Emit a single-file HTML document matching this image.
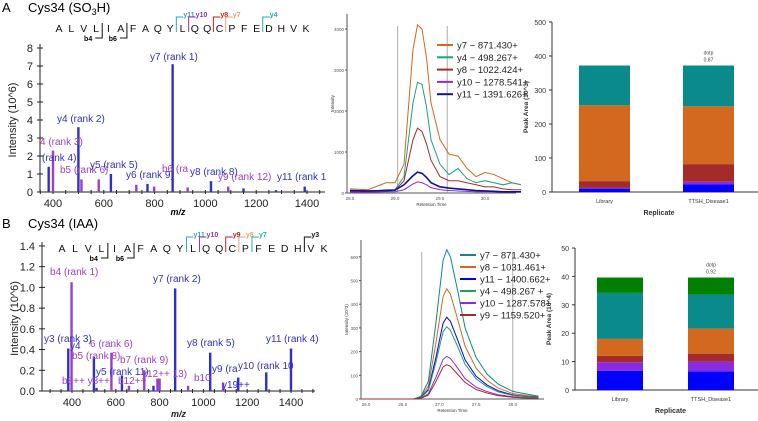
<!DOCTYPE html>
<html><head><meta charset="utf-8"><style>
html,body{margin:0;background:#fff;overflow:hidden;width:758px;height:421px;}
svg{display:block;font-family:"Liberation Sans",sans-serif;}
</style></head><body>
<svg id="fig" width="758" height="421" viewBox="0 0 758 421" xmlns="http://www.w3.org/2000/svg">
<g id="static">
<text x="2" y="12" font-size="13">A</text>
<text x="28" y="12" font-size="13">Cys34 (SO<tspan font-size="9" dy="3">3</tspan><tspan dy="-3">H)</tspan></text>
<text x="2" y="228" font-size="13">B</text>
<text x="28" y="228" font-size="13">Cys34 (IAA)</text>
</g>
</svg>
<script>
const NS="http://www.w3.org/2000/svg";
const svg=document.getElementById('fig');
function el(t,a,p){const e=document.createElementNS(NS,t);for(const k in a)e.setAttribute(k,a[k]);(p||svg).appendChild(e);return e;}

// ---------- Spectrum data ----------
const specA_mz=[383,400,500,512,580,628,728,772,798,871,930,1022,1090,1150,1278,1391];
const specA_int=[1.4,2.3,3.6,0.7,0.7,1.0,0.4,0.45,0.3,7.1,0.25,0.6,0.3,0.2,0.1,0.3];
const specA_type=["y","b","y","b","b","y","b","y","b","y","b","y","b","y","y","y"];
const specA_yticks=[0,1,2,3,4,5,6,7,8];
const specB_mz=[383,398,500,512,580,628,660,730,772,790,800,871,930,1031,1090,1159,1287,1400];
const specB_int=[0.41,1.05,0.33,0.03,0.37,0.15,0.05,0.2,0.05,0.12,0.12,0.99,0.05,0.37,0.08,0.13,0.18,0.41];
const specB_type=["y","b","y","y","b","y","b","b","y","b","b","y","b","y","b","y","y","y"];
const specB_yticks=[0,0.2,0.4,0.6,0.8,1.0,1.2,1.4];
const spec_xticks=[400,600,800,1000,1200,1400];

// ---------- Chromatogram data ----------
const chromA_t=[28.5,28.7,28.9,29.0,29.1,29.2,29.25,29.3,29.35,29.4,29.5,29.6,29.7,29.8,29.9,30.0,30.1,30.2,30.3,30.4];
const chromA_y7=[100,80,250,250,700,3500,4100,4000,3300,2200,1300,950,900,600,400,500,450,350,250,200];
const chromA_y4=[50,40,80,80,400,2200,2700,2650,2100,1300,700,450,600,350,250,300,250,200,250,200];
const chromA_y8=[30,30,50,60,300,1300,1580,1500,1200,800,400,300,300,250,200,150,150,100,80,80];
const chromA_y10=[20,20,30,30,80,220,270,250,200,130,80,60,50,40,30,30,30,20,20,20];
const chromA_y11=[60,50,60,70,200,420,510,480,380,250,150,120,100,80,60,50,40,30,30,30];
const chromA_labels=["y7  − 871.430+","y4  − 498.267+","y8 − 1022.424+","y10 − 1278.541+","y11 − 1391.626+"];
const chromA_yticks=[0,1000,2000,3000,4000];
const chromA_xticks=[28.5,29.0,29.5,30.0];

const chromB_t=[25.95,26.5,26.65,26.75,26.85,26.95,27.05,27.1,27.15,27.25,27.35,27.5,27.65,27.8,28.0,28.2,28.35];
const chromB_y7=[0,0,0,12,75,315,585,630,600,455,300,175,105,63,32,20,12];
const chromB_y8=[0,0,0,9,55,232,432,465,442,335,223,130,79,46,23,14,9];
const chromB_y11=[0,0,0,7,41,172,320,345,328,248,165,96,59,35,17,10,7];
const chromB_y4=[0,0,0,6,36,152,284,305,290,220,146,85,52,30,15,9,6];
const chromB_y10=[0,0,0,4,22,90,167,180,171,130,86,50,31,18,9,5,4];
const chromB_y9=[0,0,0,3,17,72,135,145,138,104,70,40,25,14,7,4,3];
const chromB_labels=["y7  − 871.430+","y8 − 1031.461+","y11 − 1400.662+","y4  − 498.267 +","y10 − 1287.578+","y9 − 1159.520+"];
const chromB_yticks=[0,100,200,300,400,500,600];
const chromB_xticks=[26.0,26.5,27.0,27.5,28.0];

// ---------- Bar data ----------
const reps=["Library","TTSH_Disease1"];
const barA_blue=[10,22],barA_purple=[2,8],barA_red=[20,52],barA_orange=[223,170],barA_teal=[117,120];
const barA_yticks=[0,100,200,300,400,500];
const barB_blue=[6.8,6.6],barB_purple=[3.0,3.4],barB_red=[2.2,2.8],barB_orange=[6.0,8.8],barB_teal=[16.2,12.0],barB_green=[5.4,6.0];
const barB_yticks=[0,10,20,30,40,50];

const C={teal:"#0a8a8a",orange:"#d2691e",red:"#a52a2a",purple:"#8a2be2",blue:"#0000ff",green:"#008000",yion:"#3030c8",bion:"#9a40c8"};

// ---------- Spectrum drawing ----------
function spectrum(o){
  const g=el('g',{});
  
  
  const xs=m=>o.x0+(m-400)*o.pxPer100/100;
  const ys=v=>o.yb-v*o.pxPerUnit;
  el('line',{x1:o.ax,y1:o.yb,x2:o.xr,y2:o.yb,stroke:"#222","stroke-width":1},g);
  el('line',{x1:o.ax,y1:o.yb,x2:o.ax,y2:ys(o.yt[o.yt.length-1])-4,stroke:"#222","stroke-width":1},g);
  o.yt.forEach(v=>{
    el('line',{x1:o.ax-3,y1:ys(v),x2:o.ax+3,y2:ys(v),stroke:"#222"},g);
    const t=el('text',{x:o.ax-7,y:ys(v)+4,"font-size":11,"text-anchor":"end",fill:"#222"},g);
    
    
    t.textContent=o.fmt(v);
  });
  for(let m=300;m<=1500;m+=50){const x=xs(m);if(x<o.ax||x>o.xr)continue;el('line',{x1:x,y1:o.yb-2,x2:x,y2:o.yb+2,stroke:"#222"},g);}
  spec_xticks.forEach(m=>{
    const t=el('text',{x:xs(m),y:o.yb+15,"font-size":11,"text-anchor":"middle",fill:"#222"},g);
    
    
    t.textContent=m;
  });
  o.mz.forEach((m,i)=>{
    const r=el('rect',{x:xs(m)-1.2,y:ys(o.int[i]),width:2.4,height:o.int[i]*o.pxPerUnit,fill:o.type[i]=="y"?C.yion:C.bion},g);
    
    
  });
  const yl=el('text',{x:0,y:0,"font-size":11,"text-anchor":"middle",transform:`translate(${o.ax-24},${(o.yb+ys(o.yt[o.yt.length-1]))/2}) rotate(-90)`,fill:"#222"},g);
  
  
  yl.textContent="Intensity (10^6)";
  if(o.xlY){
    const xl=el('text',{x:(o.ax+o.xr)/2,y:o.xlY,"font-size":9,"font-weight":"bold","font-style":"italic","text-anchor":"middle",fill:"#222"},g);
    
    
    xl.textContent="m/z";
  }
  o.ann.forEach(a=>{
    const t=el('text',{x:a[1],y:a[2],"font-size":10,fill:a[3]},g);
    
    
    t.textContent=a[0];
  });
  const seq="ALVLIAFAQYLQQCPFEDHVK";
  for(let i=0;i<seq.length;i++){
    const t=el('text',{x:o.sx+i*o.sdx,y:o.sy,"font-size":10.5,"text-anchor":"middle",fill:"#111"},g);
    
    
    t.textContent=seq[i];
  }
  o.frag.forEach(f=>{
    const x=o.sx+(f[1]+0.5)*o.sdx;
    if(f[3]=="b"){
      el('path',{d:`M${x} ${o.sy-9} V${o.sy+6} H${x-7}`,stroke:"#111",fill:"none"},g);
      const t=el('text',{x:x-10,y:o.sy+9,"font-size":7,"font-weight":"bold","text-anchor":"end"},g);
      t.textContent=f[0];
    }else{
      el('path',{d:`M${x} ${o.sy} V${o.sy-15} H${x+7}`,stroke:f[2],fill:"none"},g);
      const t=el('text',{x:x+7,y:o.sy-15,"font-size":7,"font-weight":"bold",fill:f[2]},g);
      t.textContent=f[0];
    }
  });
}
spectrum({name:"spectrum-a",mz:specA_mz,int:specA_int,type:specA_type,yt:specA_yticks,fmt:v=>v,
  ax:40,xr:325,yb:192,pxPerUnit:18,x0:53,pxPer100:25.4,xlY:0,sx:59,sdx:12.35,sy:32,
  frag:[["b4",3,"#111","b"],["b6",5,"#111","b"],["y11",9,"#3aa0c8","y"],["y10",10,"#8a3a9a","y"],["y8",12,"#c02020","y"],["y7",13,"#e8a070","y"],["y4",16,"#20b0b0","y"]],
  ann:[["y7 (rank 1)",150,60,C.yion],["y4 (rank 2)",57,122,C.yion],["4 (rank 3)",40,145,C.bion],["(rank 4)",42,161,C.yion],["b5 (rank 6) ",60,173,C.bion],["y5 (rank 5)",90,168,C.yion],["y6 (rank 9)",126,178,C.yion],["b6 (ra",162,172,C.bion],["y8 (rank 8)",190,175,C.yion],["y9 (rank 12)",218,180,C.bion],["y11 (rank 1",277,180,C.yion]]});
spectrum({name:"spectrum-b",mz:specB_mz,int:specB_int,type:specB_type,yt:specB_yticks,fmt:v=>v.toFixed(1),
  ax:42,xr:315,yb:391,pxPerUnit:103.6,x0:72,pxPer100:21.9,xlY:417,sx:62,sdx:13.1,sy:252,
  frag:[["b4",3,"#111","b"],["b6",5,"#111","b"],["y11",9,"#3aa0c8","y"],["y10",10,"#8a3a9a","y"],["y9",12,"#c02020","y"],["y8",13,"#e8a070","y"],["y7",14,"#20b0b0","y"],["y3",18,"#111","y"]],
  ann:[["b4 (rank 1)",50,275,C.bion],["y7 (rank 2)",153,282,C.yion],["y3 (rank 3)",44,342,C.yion],["y4",70,349,C.yion],["6 (rank 6)",90,347,C.bion],["b5 (rank 8)",72,359,C.bion],["b7 (rank 9)",120,363,C.bion],["y8 (rank 5)",187,346,C.yion],["y11 (rank 4)",266,342,C.yion],["y5 (rank 11)",96,375,C.yion],["y12++ 13)",142,377,C.bion],["y9 (ra",212,372,C.yion],["y10 (rank 10",238,369,C.yion],["b8++  y8++",62,384,C.bion],["b12++",118,384,C.bion],["b10",194,381,C.bion],["y19++",222,388,C.yion]]});
(function(){const t=el('text',{x:178,y:215,"font-size":9,"font-weight":"bold","font-style":"italic","text-anchor":"middle"});t.textContent="m/z";})();

// ---------- Chromatogram drawing ----------
function chrom(o){
  const g=el('g',{});
  
  
  const xs=t=>o.xa+(t-o.t0)*o.pxPerT;
  const ys=v=>o.yb-v*o.pxPerV;
  el('line',{x1:o.ax,y1:o.yb,x2:o.xr,y2:o.yb,stroke:"#555"},g);
  el('line',{x1:o.ax,y1:o.yb,x2:o.ax,y2:o.ytop,stroke:"#555"},g);
  o.yt.forEach(v=>{el('line',{x1:o.ax-2,y1:ys(v),x2:o.ax,y2:ys(v),stroke:"#555"},g);
    const t=el('text',{x:o.ax-3,y:ys(v)+2,"font-size":4.5,"text-anchor":"end",fill:"#555"},g);t.textContent=v;});
  o.xt.forEach(v=>{const t=el('text',{x:xs(v),y:o.yb+7,"font-size":4.5,"text-anchor":"middle",fill:"#555"},g);t.textContent=v.toFixed(1);});
  o.vl.forEach(v=>el('line',{x1:xs(v),y1:o.ytop+12,x2:xs(v),y2:o.yb,stroke:"#999","stroke-width":0.8},g));
  o.series.forEach((s,i)=>{
    const p=el('polyline',{points:o.t.map((t,j)=>xs(t)+","+ys(s[j])).join(" "),fill:"none",stroke:o.colors[i],"stroke-width":o.sw[i]},g);
    
    
    el('line',{x1:o.lx,y1:o.ly+i*o.ldy,x2:o.lx+16,y2:o.ly+i*o.ldy,stroke:o.colors[i],"stroke-width":2},g);
    const t=el('text',{x:o.lx+20,y:o.ly+i*o.ldy+3.5,"font-size":9.5,fill:"#222"},g);
    t.textContent=o.labels[i];
  });
  const yl=el('text',{"font-size":4.5,"text-anchor":"middle",transform:`translate(${o.ax-13},${(o.yb+o.ytop)/2}) rotate(-90)`,fill:"#333"},g);
  yl.textContent=o.ylab;
  const xl=el('text',{x:(o.ax+o.xr)/2,y:o.yb+13,"font-size":4.5,"text-anchor":"middle",fill:"#333"},g);
  xl.textContent="Retention Time";
}
chrom({name:"chromatogram-a",t:chromA_t,series:[chromA_y7,chromA_y4,chromA_y8,chromA_y10,chromA_y11],labels:chromA_labels,
  colors:[C.orange,"#20a080",C.red,C.purple,"#1010a0"],sw:[1,1,1,1,1.6],yt:chromA_yticks,xt:chromA_xticks,
  ax:347,xr:516,ytop:14,yb:193,xa:350,t0:28.5,pxPerT:90,pxPerV:0.041,vl:[29.03,29.58],lx:437,ly:45,ldy:12.3,ylab:"Intensity"});
chrom({name:"chromatogram-b",t:chromB_t,series:[chromB_y7,chromB_y8,chromB_y11,chromB_y4,chromB_y10,chromB_y9],labels:chromB_labels,
  colors:[C.teal,C.orange,C.blue,"#20a060",C.purple,C.red],sw:[1,1,1,1,1,1],yt:chromB_yticks,xt:chromB_xticks,
  ax:361,xr:544,ytop:240,yb:399,xa:366,t0:26.0,pxPerT:73.4,pxPerV:0.237,vl:[26.76,28.0],lx:460,ly:255,ldy:12,ylab:"Intensity (10^3)"});

// ---------- Stacked bars ----------
function bars(o){
  const g=el('g',{});
  
  
  const ys=v=>o.yb-v*o.pxPer;
  el('line',{x1:o.ax,y1:o.yb,x2:o.xr,y2:o.yb,stroke:"#333"},g);
  el('line',{x1:o.ax,y1:o.yb,x2:o.ax,y2:ys(o.yt[o.yt.length-1]),stroke:"#333"},g);
  o.yt.forEach(v=>{el('line',{x1:o.ax-3,y1:ys(v),x2:o.ax,y2:ys(v),stroke:"#333"},g);
    const t=el('text',{x:o.ax-6,y:ys(v)+3,"font-size":7,"text-anchor":"end",fill:"#333"},g);t.textContent=v;});
  reps.forEach((r,i)=>{
    let cum=0;
    o.stacks.forEach((s,k)=>{
      const rc=el('rect',{x:o.bx[i],y:ys(cum+s[i]),width:o.bw,height:s[i]*o.pxPer,fill:o.colors[k]},g);
      
      
      cum+=s[i];
    });
    const t=el('text',{x:o.bx[i]+o.bw/2,y:o.yb+11,"font-size":5.5,"text-anchor":"middle",fill:"#333"},g);
    t.textContent=r;
    if(i==1){const d=el('text',{x:o.bx[i]+o.bw/2,y:ys(cum)-11,"font-size":5,"text-anchor":"middle",fill:"#444"},g);
      d.textContent="dotp";
      const d2=el('text',{x:o.bx[i]+o.bw/2,y:ys(cum)-4,"font-size":5,"text-anchor":"middle",fill:"#444"},g);
      d2.textContent=o.dotp;}
  });
  const yl=el('text',{"font-size":6.5,"font-weight":"bold","text-anchor":"middle",transform:`translate(${o.ax-24},${(o.yb+ys(o.yt[o.yt.length-1]))/2}) rotate(-90)`,fill:"#333"},g);
  yl.textContent=o.ylab;
  const xl=el('text',{x:(o.ax+o.xr)/2+4,y:o.yb+23,"font-size":7,"font-weight":"bold","text-anchor":"middle",fill:"#333"},g);
  xl.textContent="Replicate";
}
bars({name:"peak-area-a",stacks:[barA_blue,barA_purple,barA_red,barA_orange,barA_teal],colors:[C.blue,C.purple,C.red,C.orange,C.teal],
  yt:barA_yticks,ax:552,xr:758,yb:192,pxPer:0.34,bx:[579,683],bw:51,dotp:"0.87",ylab:"Peak Area (10^3)"});
bars({name:"peak-area-b",stacks:[barB_blue,barB_purple,barB_red,barB_orange,barB_teal,barB_green],colors:[C.blue,C.purple,C.red,C.orange,C.teal,C.green],
  yt:barB_yticks,ax:575,xr:758,yb:390,pxPer:2.84,bx:[597,688],bw:46,dotp:"0.92",ylab:"Peak Area (10^4)"});
</script>
</body></html>
